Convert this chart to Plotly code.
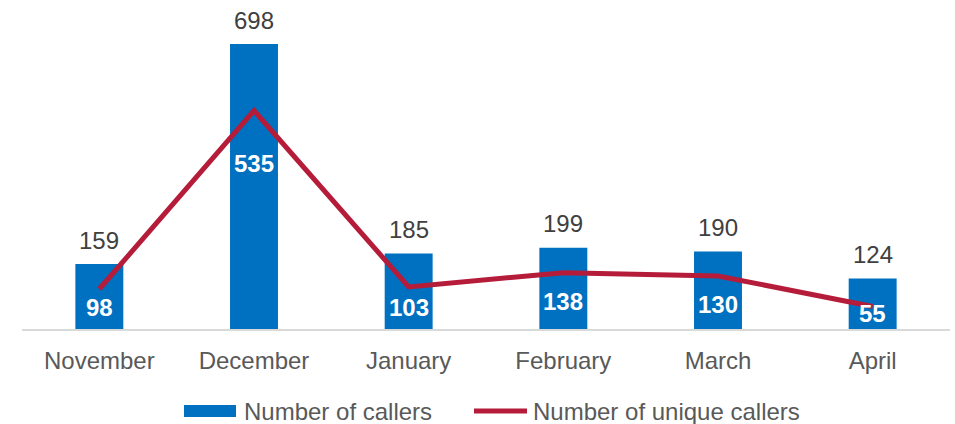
import plotly.graph_objects as go

months = ["November", "December", "January", "February", "March", "April"]
callers = [159, 698, 185, 199, 190, 124]
unique_callers = [98, 535, 103, 138, 130, 55]

BAR_COLOR = "#0070C0"
LINE_COLOR = "#B51C3A"
FONT = "Liberation Sans, Arial, sans-serif"
FS = 24

fig = go.Figure()
fig.add_trace(go.Bar(x=months, y=callers, name="Number of callers",
                     marker=dict(color=BAR_COLOR, line=dict(width=0)),
                     showlegend=False, hoverinfo="skip"))
fig.add_trace(go.Scatter(x=months, y=unique_callers, name="Number of unique callers",
                         mode="lines", line=dict(color=LINE_COLOR, width=5),
                         showlegend=False, hoverinfo="skip"))

annotations = []
for m, v in zip(months, callers):
    annotations.append(dict(x=m, y=v, xref="x", yref="y", text=str(v),
                            showarrow=False, yanchor="middle", yshift=24,
                            font=dict(family=FONT, size=FS, color="#404040")))
# pixel offsets of the white labels below the line points
label_shift = [-18, -53, -21, -29, -29, -7]
for m, v, s in zip(months, unique_callers, label_shift):
    annotations.append(dict(x=m, y=v, xref="x", yref="y", text="<b>%d</b>" % v,
                            showarrow=False, yanchor="middle", yshift=s,
                            font=dict(family=FONT, size=FS, color="white")))

# custom legend
legend_font = dict(family=FONT, size=FS, color="#595959")
annotations.append(dict(x=242, y=411, xref="paper", yref="paper", text="Number of callers",
                        showarrow=False, xanchor="left", yanchor="middle", font=legend_font))
annotations.append(dict(x=531, y=411, xref="paper", yref="paper", text="Number of unique callers",
                        showarrow=False, xanchor="left", yanchor="middle", font=legend_font))

W, H = 955, 424
L, R, T, B = 22, 5, 0, 95
pw, ph = W - L - R, H - T - B

def px_x(p):
    return (p - L) / pw

def px_y(p):
    return (H - B - p) / ph

for a in annotations:
    if a["xref"] == "paper":
        a["x"] = px_x(a["x"])
        a["y"] = px_y(a["y"])

shapes = [
    dict(type="rect", xref="paper", yref="paper", x0=px_x(184), x1=px_x(236),
         y0=px_y(417), y1=px_y(405), fillcolor=BAR_COLOR, line=dict(width=0)),
    dict(type="line", xref="paper", yref="paper", x0=px_x(474), x1=px_x(527),
         y0=px_y(411), y1=px_y(411), line=dict(color=LINE_COLOR, width=5)),
]

fig.update_layout(
    width=W, height=H,
    margin=dict(l=L, r=R, t=T, b=B),
    paper_bgcolor="white", plot_bgcolor="white",
    bargap=0.69,
    font=dict(family=FONT),
    annotations=annotations,
    shapes=shapes,
    showlegend=False,
)
fig.update_xaxes(showline=True, linecolor="#D9D9D9", linewidth=1.5, ticks="",
                 showgrid=False, tickfont=dict(family=FONT, size=FS, color="#595959"),
                 ticklabelstandoff=9)
fig.update_yaxes(range=[0, 806], visible=False, showgrid=False, zeroline=False)

fig.write_html("out.html", config={"displayModeBar": False},
               post_script="document.body.style.margin='0';document.body.style.overflow='hidden';")
